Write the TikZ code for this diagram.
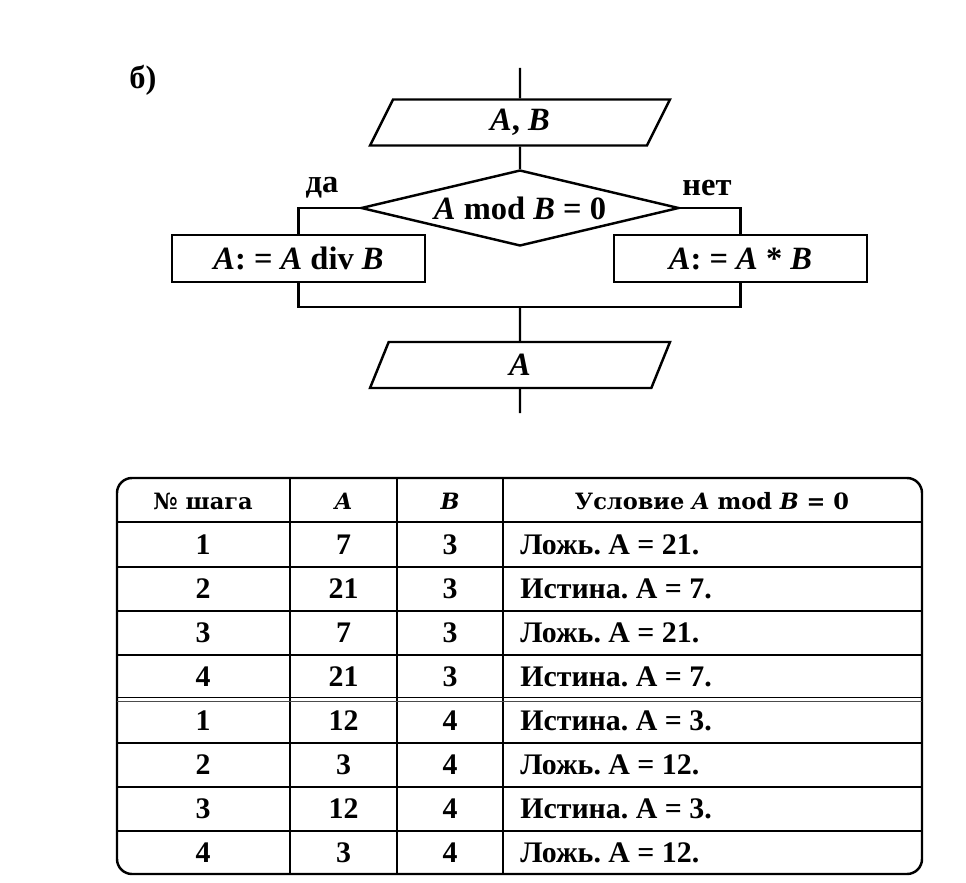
\documentclass[tikz,border=0pt]{standalone}
\usepackage{fontspec}
\setmainfont{Liberation Serif}
\newfontfamily\headfont{DejaVu Serif}
\usetikzlibrary{positioning,shapes.geometric}
\newcommand\flowfont{\fontsize{18.5}{21}\selectfont\bfseries}
\newcommand\cellfont{\fontsize{17}{20}\selectfont\bfseries}
\tikzset{
  flowline/.style={line width=1.4pt},
  iobox/.style={draw,line width=1.4pt,trapezium,trapezium left angle=49,trapezium right angle=131,trapezium stretches body,minimum width=6cm,minimum height=0.92cm,inner sep=0pt,font=\flowfont},
  condbox/.style={draw,line width=1.4pt,diamond,aspect=4.2,minimum width=6.36cm,minimum height=1.52cm,inner sep=0pt,font=\flowfont},
  actbox/.style={draw,line width=1.4pt,rectangle,minimum width=5.06cm,minimum height=0.94cm,inner sep=0pt,font=\flowfont},
  labeltext/.style={inner sep=0pt,font=\flowfont},
  tableline/.style={line width=1.4pt},
  gridline/.style={line width=1.1pt},
  headtext/.style={inner sep=0pt,font=\headfont\fontsize{12.8}{15}\selectfont\bfseries},
  celltext/.style={inner sep=0pt,font=\cellfont}
}
\frenchspacing

\begin{document}
\begin{tikzpicture}[x=0.02cm,y=-0.02cm]
  \useasboundingbox (0,0) rectangle (966,882);
  \node[labeltext] (part) at (143,80) {б)};
  % flowchart
  \coordinate (start) at (520,68);
  \node[iobox] (inp) at (520,122.5) {\textit{A}, \textit{B}};
  \node[condbox] (cond) at (520,208) {\textit{A} mod \textit{B} = 0};
  \node[actbox] (div) at (298.5,258.5) {\textit{A}: = \textit{A} div \textit{B}};
  \node[actbox] (mul) at (740.5,258.5) {\textit{A}: = \textit{A} * \textit{B}};
  \coordinate (join) at (520,307);
  \node[iobox] (out) at (520,365) {\textit{A}};
  \coordinate (stop) at (520,413);
  \node[labeltext] (yes) at (322,188) {да};
  \node[labeltext] (no) at (707,188) {нет};
  \draw[flowline] (start) -- (inp);
  \draw[flowline] (inp) -- (cond);
  \draw[flowline] (cond.west) -| (div.north);
  \draw[flowline] (cond.east) -| (mul.north);
  \draw[flowline] (div.south) |- (join) -| (mul.south);
  \draw[flowline] (join) -- (out);
  \draw[flowline] (out) -- (stop);
  % trace table
  \draw[tableline,rounded corners=0.3cm] (117,478) rectangle (922,874);
  \foreach \x in {290,397,503} \draw[gridline] (\x,478) -- (\x,874);
  \foreach \y in {522,567,611,655,743,787,831} \draw[gridline] (117,\y) -- (922,\y);
  \draw[gridline] (117,697.5) -- (922,697.5);
  \draw[gridline,line width=0.7pt,black!70] (117,701.5) -- (922,701.5);
  \node[headtext] (hstep) at (203,501) {№ шага};
  \node[headtext] (hA) at (343.5,501) {\textit{A}};
  \node[headtext] (hB) at (450,501) {\textit{B}};
  \node[headtext] (hcond) at (712,501) {Условие \textit{A} mod \textit{B} = 0};
  \foreach \y/\n/\a/\b/\t [count=\i] in {544.5/1/7/3/{Ложь. А = 21.},
      589/2/21/3/{Истина. А = 7.}, 633/3/7/3/{Ложь. А = 21.},
      677/4/21/3/{Истина. А = 7.}, 721/1/12/4/{Истина. А = 3.},
      765/2/3/4/{Ложь. А = 12.}, 809/3/12/4/{Истина. А = 3.},
      852.5/4/3/4/{Ложь. А = 12.}}
  {
    \node[celltext] (step\i) at (203,\y) {\n};
    \node[celltext] (valA\i) at (343.5,\y) {\a};
    \node[celltext] (valB\i) at (450,\y) {\b};
    \node[celltext,anchor=west] (res\i) at (520,\y) {\t};
  }
\end{tikzpicture}
\end{document}
